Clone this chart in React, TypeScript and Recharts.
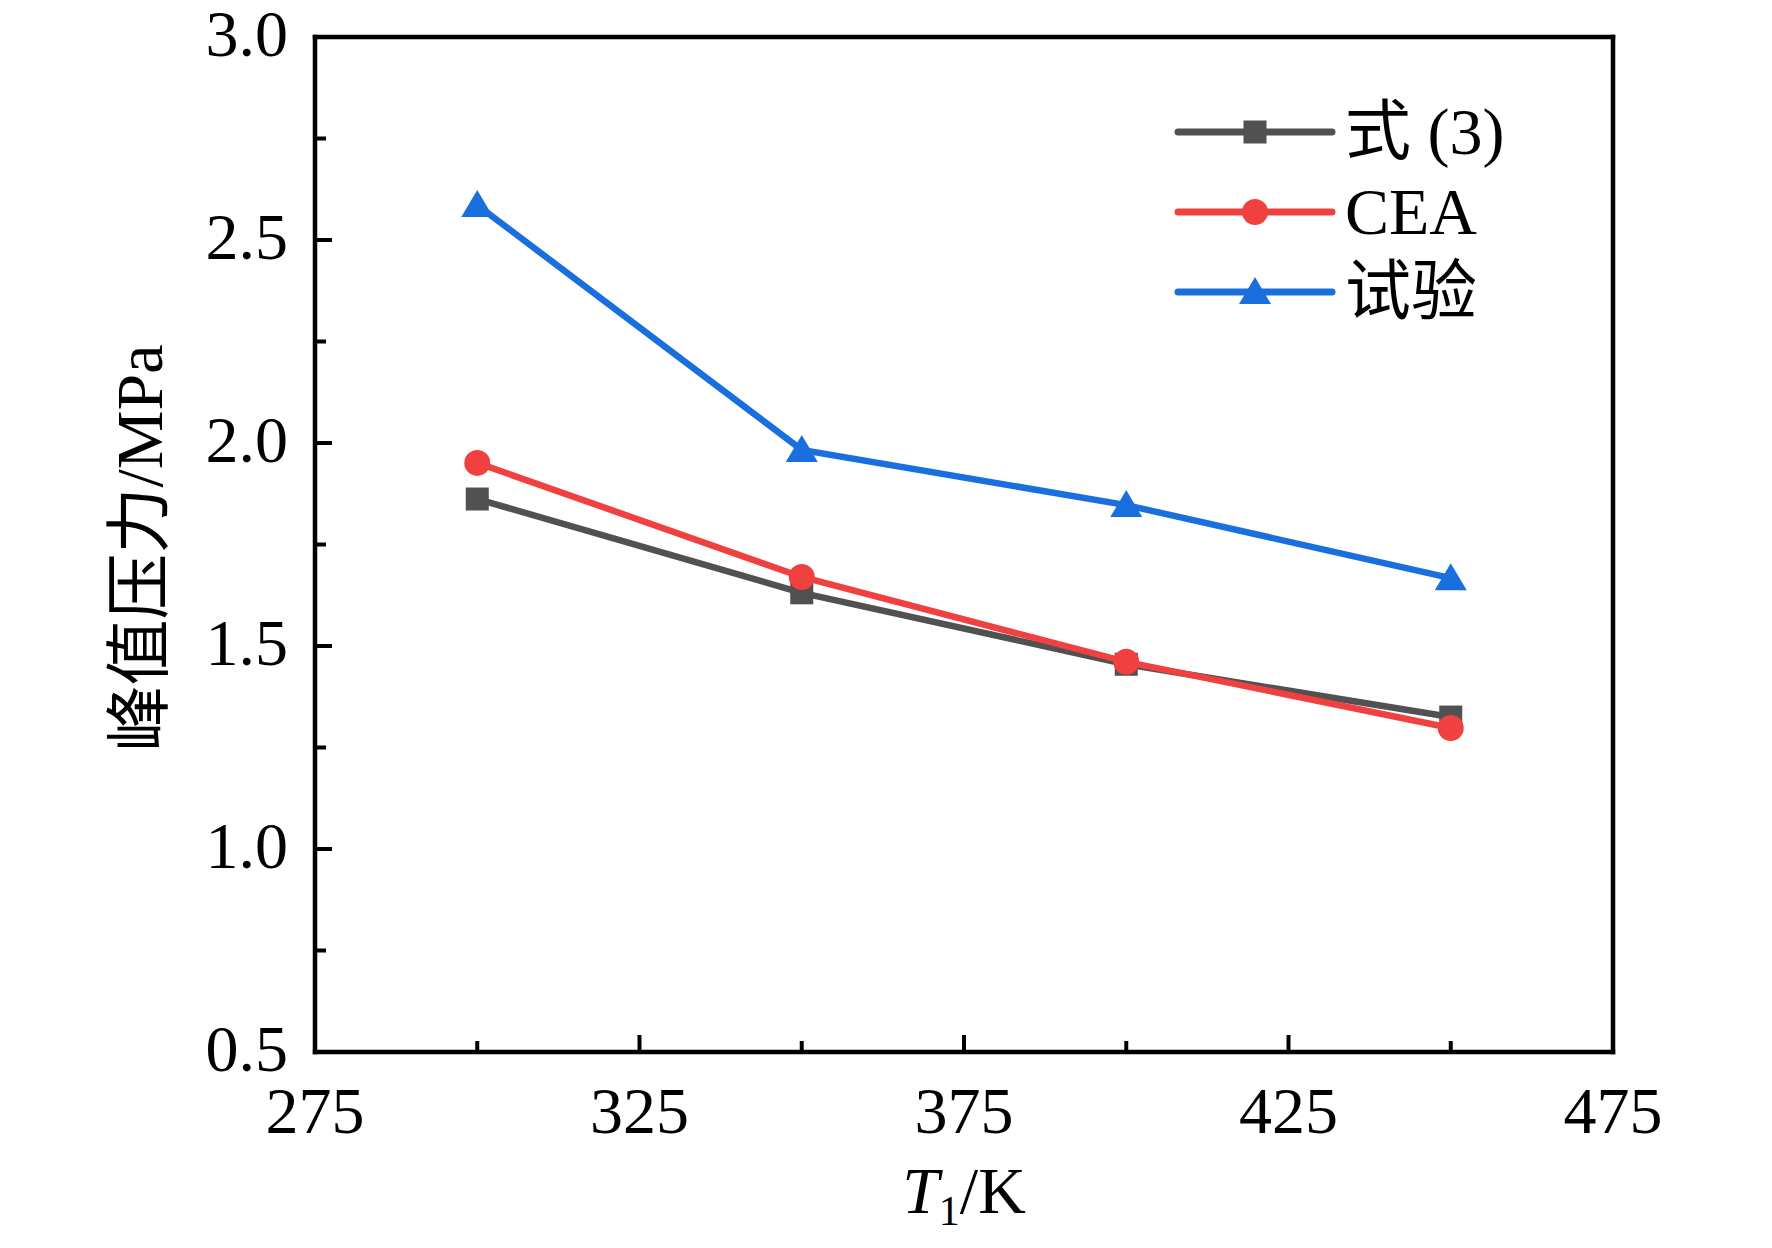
import { LineChart, Line, XAxis, YAxis, Legend, ReferenceLine } from "recharts";

// 初始温度 T1 (K)
const temperature = [300, 350, 400, 450];
// 峰值压力 (MPa)
const eq3 = [1.862, 1.631, 1.455, 1.325];
const cea = [1.951, 1.670, 1.461, 1.298];
const test = [2.586, 1.983, 1.847, 1.667];

const xTicks = [275, 300, 325, 350, 375, 400, 425, 450, 475];
const xLabels = [275, 325, 375, 425, 475];
const yTicks = [0.5, 0.75, 1.0, 1.25, 1.5, 1.75, 2.0, 2.25, 2.5, 2.75, 3.0];
const yLabels = [0.5, 1.0, 1.5, 2.0, 2.5, 3.0];

const seriesNames = ["式 (3)", "CEA", "试验"];
const colors = ["#515151", "#F14040", "#1A6FDF"];

const data = temperature.map((t, i) => ({ t, eq3: eq3[i], cea: cea[i], test: test[i] }));

const FONT = '"Liberation Serif", "Noto Sans CJK SC", serif';
const AXIS_W = 4.5;

const XTick = (props: any) => {
  const { x, y, payload } = props;
  const major = xLabels.includes(payload.value);
  return (
    <g>
      <line x1={x} x2={x} y1={y} y2={y - (major ? 17 : 11)} stroke="#000" strokeWidth={4} />
      {major && (
        <text x={x} y={y + 81} textAnchor="middle" fontSize={66} fontFamily={FONT} fill="#000">
          {payload.value}
        </text>
      )}
    </g>
  );
};

const YTick = (props: any) => {
  const { x, y, payload } = props;
  const major = yLabels.some((v) => Math.abs(v - payload.value) < 1e-6);
  return (
    <g>
      <line x1={x} x2={x + (major ? 17 : 11)} y1={y} y2={y} stroke="#000" strokeWidth={4} />
      {major && (
        <text x={x - 27} y={y + 19} textAnchor="end" fontSize={66} fontFamily={FONT} fill="#000">
          {payload.value.toFixed(1)}
        </text>
      )}
    </g>
  );
};

const XLabel = (props: any) => {
  const vb = props.viewBox;
  return (
    <text x={vb.x + vb.width / 2} y={vb.y + 161} textAnchor="middle" fontSize={66} fontFamily={FONT} fill="#000">
      <tspan fontStyle="italic">T</tspan>
      <tspan fontSize={42} dy={12}>1</tspan>
      <tspan dy={-12}>/K</tspan>
    </text>
  );
};

const YLabel = () => (
  <text
    x={139}
    y={548}
    transform="rotate(-90 139 548)"
    textAnchor="middle"
    dominantBaseline="central"
    fontSize={66}
    fontFamily={FONT}
    fill="#000"
  >
    峰值压力/MPa
  </text>
);

const Marker = ({ kind, cx, cy, color }: { kind: number; cx: number; cy: number; color: string }) => {
  if (kind === 0) return <rect x={cx - 11.5} y={cy - 11.5} width={23} height={23} fill={color} />;
  if (kind === 1) return <circle cx={cx} cy={cy} r={13} fill={color} />;
  return <polygon points={`${cx},${cy - 15} ${cx - 16},${cy + 12} ${cx + 16},${cy + 12}`} fill={color} />;
};

const dotFor = (kind: number) => (p: any) => (
  <Marker key={`m-${kind}-${p.index}`} kind={kind} cx={p.cx} cy={p.cy} color={colors[kind]} />
);

const LegendBox = () => (
  <div style={{ fontFamily: FONT, fontSize: 66, color: "#000" }}>
    {seriesNames.map((name, i) => (
      <div key={name} style={{ display: "flex", alignItems: "center", height: 80 }}>
        <svg width={170} height={40}>
          <line x1={8} x2={162} y1={20} y2={20} stroke={colors[i]} strokeWidth={7} strokeLinecap="round" />
          <Marker kind={i} cx={85} cy={20} color={colors[i]} />
        </svg>
        <span style={{ marginLeft: 5, lineHeight: "80px", whiteSpace: "nowrap" }}>{name}</span>
      </div>
    ))}
  </div>
);

const frame = { stroke: "#000", strokeWidth: AXIS_W, strokeLinecap: "square" as const };

export default function App() {
  return (
    <div style={{ position: "fixed", left: 0, top: 0, width: 1772, height: 1248, background: "#fff", overflow: "hidden" }}>
      <LineChart width={1772} height={1248} data={data} margin={{ top: 37, right: 159, left: 0, bottom: 0 }}>
        <XAxis
          dataKey="t"
          type="number"
          domain={[275, 475]}
          ticks={xTicks}
          interval={0}
          tickSize={0}
          tickMargin={0}
          tickLine={false}
          tick={<XTick />}
          height={196}
          axisLine={frame}
          label={<XLabel />}
        />
        <YAxis
          type="number"
          domain={[0.5, 3.0]}
          ticks={yTicks}
          interval={0}
          tickSize={0}
          tickMargin={0}
          tickLine={false}
          tick={<YTick />}
          width={315}
          axisLine={frame}
          label={<YLabel />}
        />
        <ReferenceLine y={3.0} {...frame} ifOverflow="visible" />
        <ReferenceLine x={475} {...frame} ifOverflow="visible" />
        <Legend
          layout="horizontal"
          align="center"
          verticalAlign="middle"
          content={() => <LegendBox />}
          wrapperStyle={{ left: 1170, top: 92, width: 420 }}
        />
        <Line type="linear" dataKey="eq3" name={seriesNames[0]} stroke={colors[0]} strokeWidth={6.5} dot={dotFor(0)} activeDot={false} isAnimationActive={false} />
        <Line type="linear" dataKey="cea" name={seriesNames[1]} stroke={colors[1]} strokeWidth={6.5} dot={dotFor(1)} activeDot={false} isAnimationActive={false} />
        <Line type="linear" dataKey="test" name={seriesNames[2]} stroke={colors[2]} strokeWidth={6.5} dot={dotFor(2)} activeDot={false} isAnimationActive={false} />
      </LineChart>
    </div>
  );
}
